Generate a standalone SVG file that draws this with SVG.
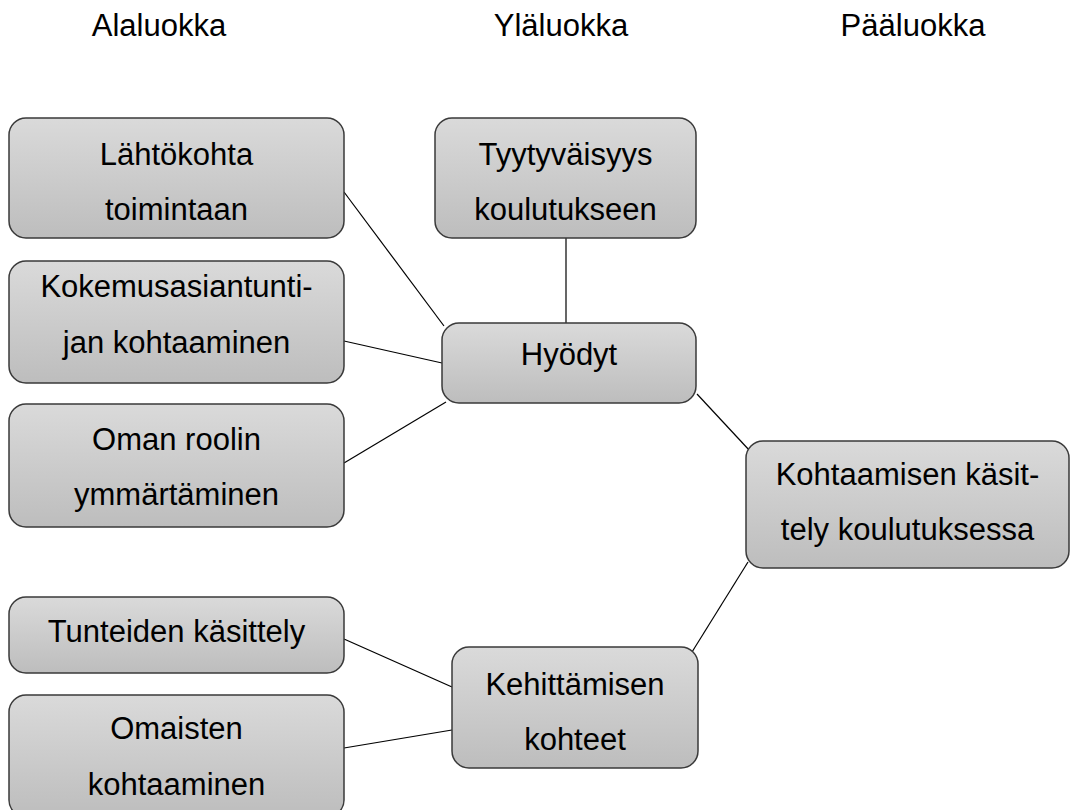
<svg xmlns="http://www.w3.org/2000/svg" width="1070" height="810" viewBox="0 0 1070 810">
<defs>
<linearGradient id="g" x1="0" y1="0" x2="0" y2="1">
<stop offset="0" stop-color="#dadada"/>
<stop offset="1" stop-color="#bdbdbd"/>
</linearGradient>
</defs>
<style>
.b{fill:url(#g);stroke:#3a3a3a;stroke-width:1.5}
text{font-family:"Liberation Sans",Arial,sans-serif;font-size:31px;fill:#000;text-anchor:middle}
.c line{stroke:#000;stroke-width:1.2}
</style>
<rect width="1070" height="810" fill="#fff"/>
<g id="headers">
<text x="159" y="36">Alaluokka</text>
<text x="561" y="36">Yläluokka</text>
<text x="913" y="36">Pääluokka</text>
</g>
<g class="c" id="connectors">
<line x1="344" y1="192" x2="444" y2="326"/>
<line x1="344" y1="341" x2="442" y2="363"/>
<line x1="344" y1="463" x2="446" y2="402"/>
<line x1="566" y1="238" x2="566" y2="323"/>
<line x1="697" y1="394" x2="750" y2="451"/>
<line x1="748" y1="562" x2="692" y2="652"/>
<line x1="344" y1="639" x2="452" y2="687"/>
<line x1="344" y1="748" x2="452" y2="730"/>
</g>
<g id="n1"><rect class="b" x="9" y="118" width="335" height="120" rx="17"/><text x="176.5" y="165">Lähtökohta</text><text x="176.5" y="220">toimintaan</text></g>
<g id="n2"><rect class="b" x="9" y="261" width="335" height="122" rx="17"/><text x="176.5" y="297">Kokemusasiantunti-</text><text x="176.5" y="353">jan kohtaaminen</text></g>
<g id="n3"><rect class="b" x="9" y="404" width="335" height="123" rx="17"/><text x="176.5" y="450">Oman roolin</text><text x="176.5" y="505">ymmärtäminen</text></g>
<g id="n4"><rect class="b" x="435" y="118" width="261" height="120" rx="17"/><text x="565.5" y="165">Tyytyväisyys</text><text x="565.5" y="220">koulutukseen</text></g>
<g id="n5"><rect class="b" x="442" y="323" width="254" height="80" rx="17"/><text x="569" y="365">Hyödyt</text></g>
<g id="n6"><rect class="b" x="746" y="441" width="323" height="127" rx="17"/><text x="907.5" y="485">Kohtaamisen käsit-</text><text x="907.5" y="540">tely koulutuksessa</text></g>
<g id="n7"><rect class="b" x="9" y="597" width="335" height="76" rx="17"/><text x="176.5" y="642">Tunteiden käsittely</text></g>
<g id="n8"><rect class="b" x="9" y="695" width="335" height="122" rx="17"/><text x="176.5" y="739">Omaisten</text><text x="176.5" y="795">kohtaaminen</text></g>
<g id="n9"><rect class="b" x="452" y="647" width="246" height="121" rx="17"/><text x="575" y="695">Kehittämisen</text><text x="575" y="750">kohteet</text></g>
</svg>
